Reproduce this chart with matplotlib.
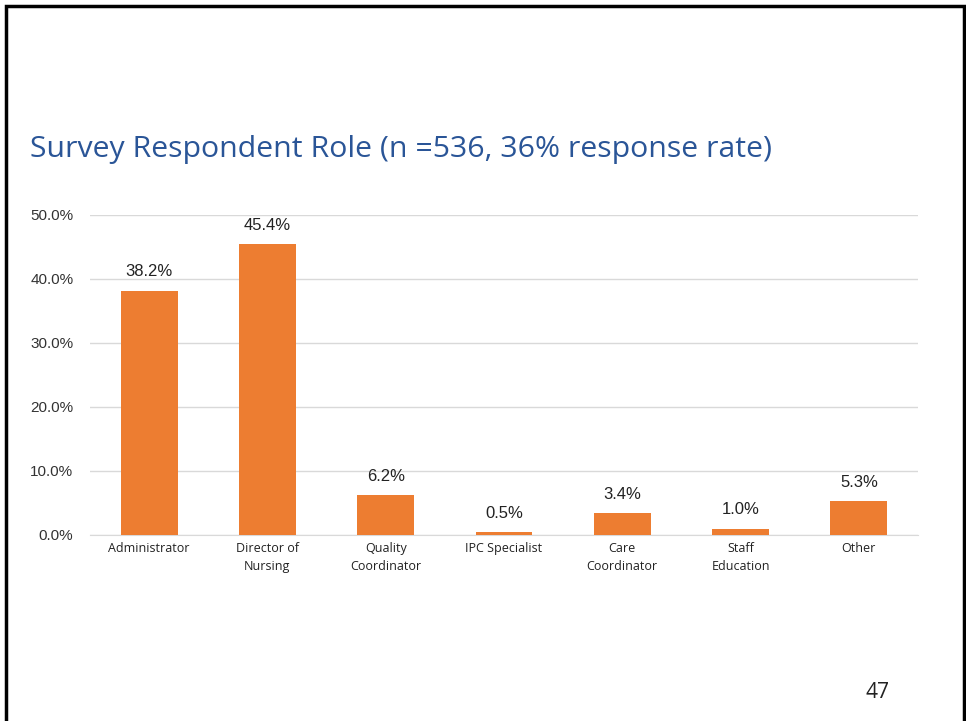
import matplotlib.pyplot as plt
from matplotlib.patches import Rectangle

# survey respondent roles
roles = ['Administrator', 'Director of\nNursing', 'Quality\nCoordinator', 'IPC Specialist',
         'Care\nCoordinator', 'Staff\nEducation', 'Other']
shares = [38.2, 45.4, 6.2, 0.5, 3.4, 1.0, 5.3]
y_ticks = [0, 10, 20, 30, 40, 50]

title = 'Survey Respondent Role (n =536, 36% response rate)'
page_no = '47'

orange = '#ED7D31'
grid_grey = '#D9D9D9'

fig = plt.figure(figsize=(9.66, 7.21), dpi=100)
W, H = 966, 721

# slide frame
fig.patches.append(Rectangle((6 / W, -0.01), (964 - 6) / W, 1.01 - 6 / H, transform=fig.transFigure,
                             fill=False, edgecolor='black', linewidth=2.5, zorder=10))

ax = fig.add_axes([90 / W, 1 - 535 / H, (918 - 90) / W, (535 - 215) / H])
x = range(len(roles))
bars = ax.bar(x, shares, width=0.48, color=orange, zorder=3)

for b, v in zip(bars, shares):
    ax.annotate(f'{v:.1f}%', (b.get_x() + b.get_width() / 2, v), xytext=(0, 8),
                textcoords='offset points', ha='center', va='bottom',
                fontsize=12, family='Liberation Sans', color='#222222')

ax.set_ylim(0, 50)
ax.set_xlim(-0.5, len(roles) - 0.5)
ax.set_yticks(y_ticks)
ax.set_yticklabels([f'{t:.1f}%' for t in y_ticks], family='Liberation Sans', fontsize=11, color='#333333')
ax.set_xticks(list(x))
ax.set_xticklabels(roles, family='Open Sans', fontsize=9, color='#222222', linespacing=1.5)
ax.tick_params(length=0)
ax.tick_params(axis='y', pad=12)
ax.tick_params(axis='x', pad=5)
ax.grid(axis='y', color=grid_grey, linewidth=1, zorder=0)
for s in ['top', 'right', 'left']:
    ax.spines[s].set_visible(False)
ax.spines['bottom'].set_color(grid_grey)

fig.text(30 / W, 1 - 149 / H, title, family='Open Sans', fontsize=21.8, color='#2A5597', va='center')
fig.text(877 / W, 1 - 692 / H, page_no, family='Open Sans', fontsize=15, color='#222222',
         ha='center', va='center')

fig.savefig('out.png', dpi=100, facecolor='white')
